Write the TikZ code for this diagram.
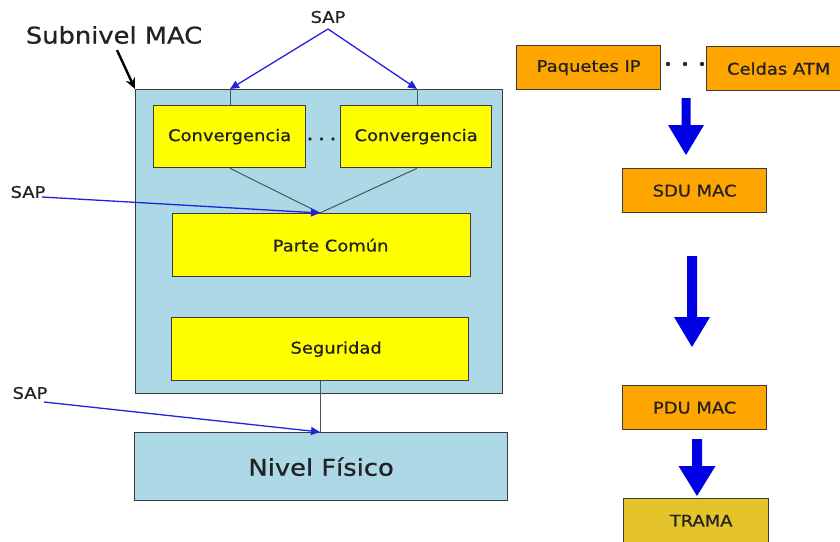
\documentclass[tikz,border=0pt]{standalone}
\usepackage{fontspec}
\setmainfont[FakeStretch=1.12, FakeBold=0.8]{DejaVu Sans}
\usetikzlibrary{arrows.meta}
\definecolor{macblue}{HTML}{ADD8E6}
\definecolor{layeryellow}{HTML}{FFFF00}
\definecolor{pduorange}{HTML}{FFA500}
\definecolor{tramagold}{HTML}{E4C42A}
\definecolor{saplink}{HTML}{2222DD}
\definecolor{edgegray}{HTML}{3A3A3A}
\definecolor{thinlink}{HTML}{4A5560}
\definecolor{txt}{HTML}{222222}
\tikzset{
  box/.style={draw=edgegray, line width=1.3pt, inner sep=0pt, text=txt,
              font=\fontsize{16}{18}\selectfont},
  layerbox/.style={box, fill=layeryellow},
  unitbox/.style={box, fill=pduorange},
  saptext/.style={text=txt, font=\fontsize{16}{18}\selectfont, inner sep=0pt},
  sapline/.style={draw=saplink, line width=1.3pt, -{Triangle[length=9pt,width=8pt]}},
  thin/.style={draw=thinlink, line width=1pt},
  fat/.style={fill=blue!90!black, draw=none},
  dotmark/.style={fill=black!85, draw=none}
}
\begin{document}
\begin{tikzpicture}[x=1pt, y=-1pt]
\useasboundingbox (0,0) rectangle (840,541);
\begin{scope}
\clip (0,0) rectangle (840,541);

% ---------- MAC sublayer stack ----------
\node[box, fill=macblue, minimum width=367pt, minimum height=304pt, anchor=north west] (mac) at (135,89) {};
\node[layerbox, minimum width=152pt, minimum height=62pt, anchor=north west] (conv1) at (153,105) {Convergencia};
\node[layerbox, minimum width=151pt, minimum height=62pt, anchor=north west] (conv2) at (340,105) {Convergencia};
\node[layerbox, minimum width=298pt, minimum height=63pt, anchor=north west] (cps) at (172,213) {\hspace*{18pt}Parte Común};
\node[layerbox, minimum width=297pt, minimum height=63pt, anchor=north west] (sec) at (171,317) {\hspace*{32pt}Seguridad};
\node[box, fill=macblue, minimum width=373pt, minimum height=68pt, anchor=north west,
      font=\fontsize{23}{26}\selectfont] (phy) at (134,432) {Nivel Físico};

\foreach \x in {310,321.5,333} \fill[dotmark] (\x,139) circle (1.9pt);

\node[text=txt, font=\fontsize{23}{26}\selectfont, inner sep=0pt] (title) at (114,35) {Subnivel MAC};
\draw[line width=2.4pt, -{Stealth[length=11pt,width=10pt]}] (title.south) ++(3,6) coordinate (ts) -- (mac.north west);

% SAP points on the layer boundaries
\coordinate (sapL) at (230,89);
\coordinate (sapR) at (417,89);
\coordinate (sapC) at (320,213);
\coordinate (sapP) at (320,432);

\draw[thin] (sapL) -- (sapL |- conv1.north);
\draw[thin] (sapR) -- (sapR |- conv2.north);
\draw[thin] (sapL |- conv1.south) -- (sapC);
\draw[thin] (sapR |- conv2.south) -- (sapC);
\draw[thin] (sec.south -| sapP) -- (sapP);

\node[saptext] (sapTop) at (328,17) {SAP};
\node[saptext] (sapMid) at (28,192) {SAP};
\node[saptext] (sapLow) at (30,393) {SAP};
\coordinate (topTip) at (328,29);
\draw[sapline] (topTip) -- (sapL);
\draw[sapline] (topTip) -- (sapR);
\draw[sapline] (42,197) -- (sapC);
\draw[sapline] (44,402) -- (sapP);

% ---------- data units ----------
\node[unitbox, minimum width=144pt, minimum height=44pt, anchor=north west] (ip) at (516,45) {Paquetes IP};
\node[unitbox, minimum width=144pt, minimum height=44pt, anchor=north west] (atm) at (706,46) {Celdas ATM};
\foreach \x in {668,685,702} \fill[dotmark] (\x,64) circle (2.2pt);
\node[unitbox, minimum width=144pt, minimum height=44pt, anchor=north west] (sdu) at (622,168) {SDU MAC};
\node[unitbox, minimum width=144pt, minimum height=44pt, anchor=north west] (pdu) at (622,385) {PDU MAC};
\node[box, fill=tramagold, minimum width=145pt, minimum height=44pt, anchor=north west] (trama) at (623,498) {\hspace*{10pt}TRAMA};

% block arrows between data units
\fill[fat] (681.5,98) -- (690.5,98) -- (690.5,125) -- (704,125) -- (686,155) -- (668,125) -- (681.5,125) -- cycle;
\fill[fat] (687,256) -- (697,256) -- (697,317) -- (710,317) -- (692,347) -- (674,317) -- (687,317) -- cycle;
\fill[fat] (692,439) -- (702,439) -- (702,466) -- (715.5,466) -- (697,496) -- (678.5,466) -- (692,466) -- cycle;
\end{scope}
\end{tikzpicture}
\end{document}
